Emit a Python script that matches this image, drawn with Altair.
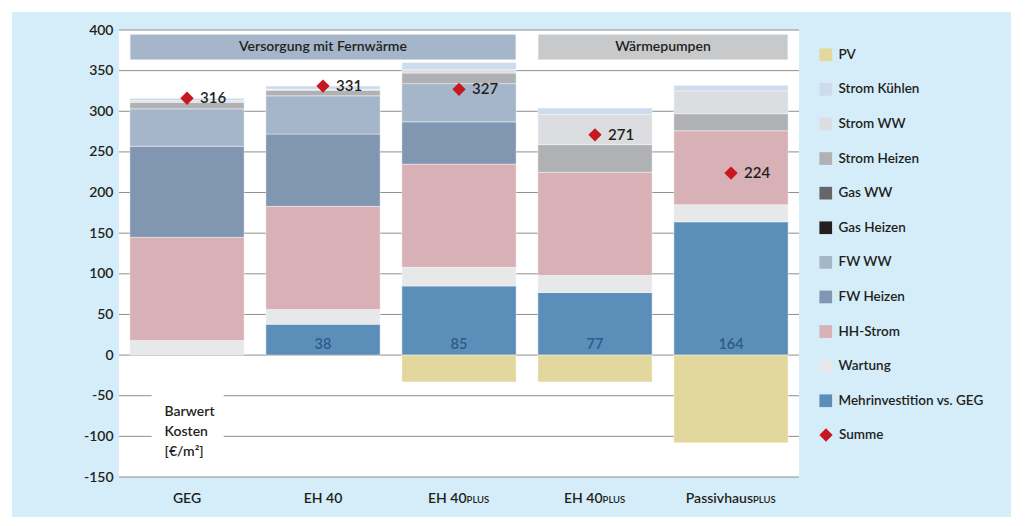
import altair as alt
import pandas as pd

# --- data -------------------------------------------------------------
categories = ["GEG", "EH 40", "EH 40", "EH 40", "Passivhaus"]
suffixes = ["", "", "PLUS", "PLUS", "PLUS"]

# cost components, listed bottom to top of each stack
mehrinvestition = [0, 38, 85, 77, 164]
wartung = [18, 18, 23, 21, 21]
hh_strom = [127, 127, 127, 127, 91]
fw_heizen = [112, 89, 52, 0, 0]
fw_ww = [46, 47, 47, 0, 0]
gas_heizen = [0, 0, 0, 0, 0]
gas_ww = [0, 0, 0, 0, 0]
strom_heizen = [8, 7, 13, 34, 21]
strom_ww = [2, 1, 4, 37, 28]
strom_kuehlen = [3, 4, 9, 8, 7]
pv = [0, 0, -33, -33, -108]

summe = [316, 331, 327, 271, 224]

groups = ["Versorgung mit Fernwärme", "Wärmepumpen"]
group_first = [0, 3]
group_last = [2, 4]
group_fill = ["#a5b5ca", "#c8c9cb"]

y_ticks = [-150, -100, -50, 0, 50, 100, 150, 200, 250, 300, 350, 400]

components = [
    ("Mehrinvestition vs. GEG", mehrinvestition, "#5b8fba"),
    ("Wartung", wartung, "#e7e8ea"),
    ("HH-Strom", hh_strom, "#d7b1b5"),
    ("FW Heizen", fw_heizen, "#8196b0"),
    ("FW WW", fw_ww, "#a5b5ca"),
    ("Gas Heizen", gas_heizen, "#231f20"),
    ("Gas WW", gas_ww, "#656669"),
    ("Strom Heizen", strom_heizen, "#b0b1b4"),
    ("Strom WW", strom_ww, "#dcdde0"),
    ("Strom Kühlen", strom_kuehlen, "#cddcec"),
    ("PV", pv, "#e2d89d"),
]

# --- layout -----------------------------------------------------------
W, H = 680, 447
PXU = W / len(categories)      # pixels per category slot
HALF = 0.42                    # half bar width in slot units
FONT = "Lato"
WEIGHT = 600
INK = "#231f20"

xscale = alt.Scale(domain=[-0.5, len(categories) - 0.5], nice=False, zero=False)
yscale = alt.Scale(domain=[-150, 400], nice=False)

# --- stacked segments -------------------------------------------------
rows = []
for i in range(len(categories)):
    pos, neg = 0, 0
    for name, values, _ in components:
        v = values[i]
        if v == 0:
            continue
        if v > 0:
            y0, y1 = pos, pos + v
            pos = y1
        else:
            y0, y1 = neg, neg + v
            neg = y1
        rows.append(dict(idx=i, x0=i - HALF, x1=i + HALF, comp=name, y0=y0, y1=y1))
seg = pd.DataFrame(rows)

legend_order = [c[0] for c in components][::-1]
legend_colors = [c[2] for c in components][::-1]

one = pd.DataFrame({"a": [0]})

background = alt.Chart(one).mark_rect(color="#d4edf9").encode(
    x=alt.value(-107), x2=alt.value(892), y=alt.value(-18), y2=alt.value(487)
)
plot_bg = alt.Chart(one).mark_rect(color="white").encode(
    x=alt.value(0), x2=alt.value(W), y=alt.value(0), y2=alt.value(H)
)

grid = alt.Chart(pd.DataFrame({"v": y_ticks})).mark_rule(
    color="#8e8e8e", strokeWidth=1
).encode(
    y=alt.Y(
        "v:Q",
        scale=yscale,
        title=None,
        axis=alt.Axis(
            values=y_ticks,
            grid=False,
            ticks=False,
            domain=False,
            labelFont=FONT,
            labelFontWeight=WEIGHT,
            labelFontSize=14,
            labelColor=INK,
            labelPadding=6,
            labelExpr="toString(datum.value)",
            zindex=1,
        ),
    ),
    x=alt.value(0),
    x2=alt.value(W),
)

# white patch behind the unit note
note_box = pd.DataFrame({"x0": [-0.26], "x1": [0.27], "y0": [-30], "y1": [-112]})
note_bg = alt.Chart(note_box).mark_rect(color="white").encode(
    x=alt.X("x0:Q", scale=xscale, axis=None), x2="x1:Q",
    y=alt.Y("y0:Q", scale=yscale, title=None), y2="y1:Q",
)

bars = alt.Chart(seg).mark_rect(stroke="white", strokeWidth=0.6, strokeOpacity=0.7).encode(
    x=alt.X("x0:Q", scale=xscale, axis=None),
    x2="x1:Q",
    y=alt.Y("y0:Q", scale=yscale, title=None),
    y2="y1:Q",
    color=alt.Color(
        "comp:N",
        scale=alt.Scale(domain=legend_order, range=legend_colors),
        legend=alt.Legend(
            title=None,
            orient="none",
            legendX=700,
            legendY=18,
            padding=0,
            symbolType="square",
            symbolSize=161,
            symbolStrokeWidth=0,
            labelFont=FONT,
            labelFontWeight=WEIGHT,
            labelFontSize=13.5,
            labelColor=INK,
            labelOffset=6,
            rowPadding=19.6,
            labelLimit=300,
        ),
    ),
)

# group headers
hdr = pd.DataFrame({
    "name": groups,
    "x0": [f - HALF for f in group_first],
    "x1": [l + HALF for l in group_last],
    "mid": [(f + l) / 2 for f, l in zip(group_first, group_last)],
    "y0": 363,
    "y1": 395,
    "ym": 379,
})
hdr_layers = []
for k in range(len(groups)):
    hdr_layers.append(
        alt.Chart(hdr.iloc[[k]]).mark_rect(color=group_fill[k], stroke="white", strokeWidth=1).encode(
            x=alt.X("x0:Q", scale=xscale, axis=None), x2="x1:Q",
            y=alt.Y("y0:Q", scale=yscale, title=None), y2="y1:Q",
        )
    )
hdr_text = alt.Chart(hdr).mark_text(
    font=FONT, fontWeight=WEIGHT, fontSize=14, color=INK, baseline="middle"
).encode(
    x=alt.X("mid:Q", scale=xscale, axis=None),
    y=alt.Y("ym:Q", scale=yscale, title=None),
    text="name:N",
)

# extra investment values inside the blue segments
inv = pd.DataFrame({"idx": range(len(categories)), "v": mehrinvestition, "base": 0})
inv = inv[inv.v > 0]
inv_text = alt.Chart(inv).mark_text(
    font=FONT, fontWeight=WEIGHT, fontSize=14.5, color="#2f5a87", baseline="middle", dy=-10
).encode(
    x=alt.X("idx:Q", scale=xscale, axis=None),
    y=alt.Y("base:Q", scale=yscale, title=None),
    text="v:Q",
)

# totals
tot = pd.DataFrame({"idx": range(len(categories)), "v": summe, "name": "Summe"})
tot_pts = alt.Chart(tot).mark_point(filled=True, color="#c8171e", size=177, opacity=1).encode(
    x=alt.X("idx:Q", scale=xscale, axis=None),
    y=alt.Y("v:Q", scale=yscale, title=None),
    shape=alt.Shape(
        "name:N",
        scale=alt.Scale(domain=["Summe"], range=["diamond"]),
        legend=alt.Legend(
            title=None,
            orient="none",
            legendX=700,
            legendY=398,
            padding=0,
            symbolSize=177,
            symbolFillColor="#c8171e",
            symbolStrokeWidth=0,
            labelFont=FONT,
            labelFontWeight=WEIGHT,
            labelFontSize=13.5,
            labelColor=INK,
            labelOffset=6,
        ),
    ),
)
tot_text = alt.Chart(tot).mark_text(
    font=FONT, fontWeight=WEIGHT, fontSize=15, color=INK, align="left", baseline="middle", dx=13
).encode(
    x=alt.X("idx:Q", scale=xscale, axis=None),
    y=alt.Y("v:Q", scale=yscale, title=None),
    text="v:Q",
)

note_df = pd.DataFrame({"x": [-0.165], "y": [-69.5], "t": ["Barwert\nKosten\n[€/m²]"]})
note = alt.Chart(note_df).mark_text(
    font=FONT, fontWeight=WEIGHT, fontSize=14, color=INK, align="left", baseline="middle",
    lineBreak="\n", lineHeight=20,
).encode(
    x=alt.X("x:Q", scale=xscale, axis=None),
    y=alt.Y("y:Q", scale=yscale, title=None),
    text="t:N",
)

# category labels with small "PLUS" suffix
CW = {"E": .58, "H": .72, " ": .2, "4": .58, "0": .58, "G": .7,
      "P": .6, "L": .5, "U": .7, "S": .52, "a": .5, "s": .42,
      "i": .24, "v": .5, "h": .56, "u": .56}


def text_width(s, size):
    return sum(CW.get(c, .55) for c in s) * size


MAIN_SIZE, SUF_SIZE = 14, 9.5
lab = pd.DataFrame({"idx": range(len(categories)), "main": categories, "suf": suffixes, "base": -150})
lab["split"] = [
    i + (text_width(m, MAIN_SIZE) - text_width(s, SUF_SIZE)) / 2 / PXU
    for i, m, s in zip(lab.idx, lab.main, lab.suf)
]
plain = lab[lab.suf == ""]
withsuf = lab[lab.suf != ""]
ybase = alt.Y("base:Q", scale=yscale, title=None)
lab_plain = alt.Chart(plain).mark_text(
    font=FONT, fontWeight=WEIGHT, fontSize=MAIN_SIZE, color=INK, baseline="alphabetic", dy=26
).encode(x=alt.X("idx:Q", scale=xscale, axis=None), y=ybase, text="main:N")
lab_main = alt.Chart(withsuf).mark_text(
    font=FONT, fontWeight=WEIGHT, fontSize=MAIN_SIZE, color=INK, align="right", baseline="alphabetic", dy=26
).encode(x=alt.X("split:Q", scale=xscale, axis=None), y=ybase, text="main:N")
lab_suf = alt.Chart(withsuf).mark_text(
    font=FONT, fontWeight=WEIGHT, fontSize=SUF_SIZE, color=INK, align="left", baseline="alphabetic", dy=26
).encode(x=alt.X("split:Q", scale=xscale, axis=None), y=ybase, text="suf:N")

chart = alt.layer(
    background, plot_bg, grid, note_bg, bars, *hdr_layers, hdr_text, inv_text,
    tot_pts, tot_text, note, lab_plain, lab_main, lab_suf,
).properties(
    width=W, height=H,
    padding={"left": 119, "top": 30, "right": 234, "bottom": 49},
    autosize=alt.AutoSizeParams(type="none"),
).configure_view(strokeWidth=0).configure(background="white")

chart.save("out.html", embed_options={"renderer": "svg", "actions": False})
